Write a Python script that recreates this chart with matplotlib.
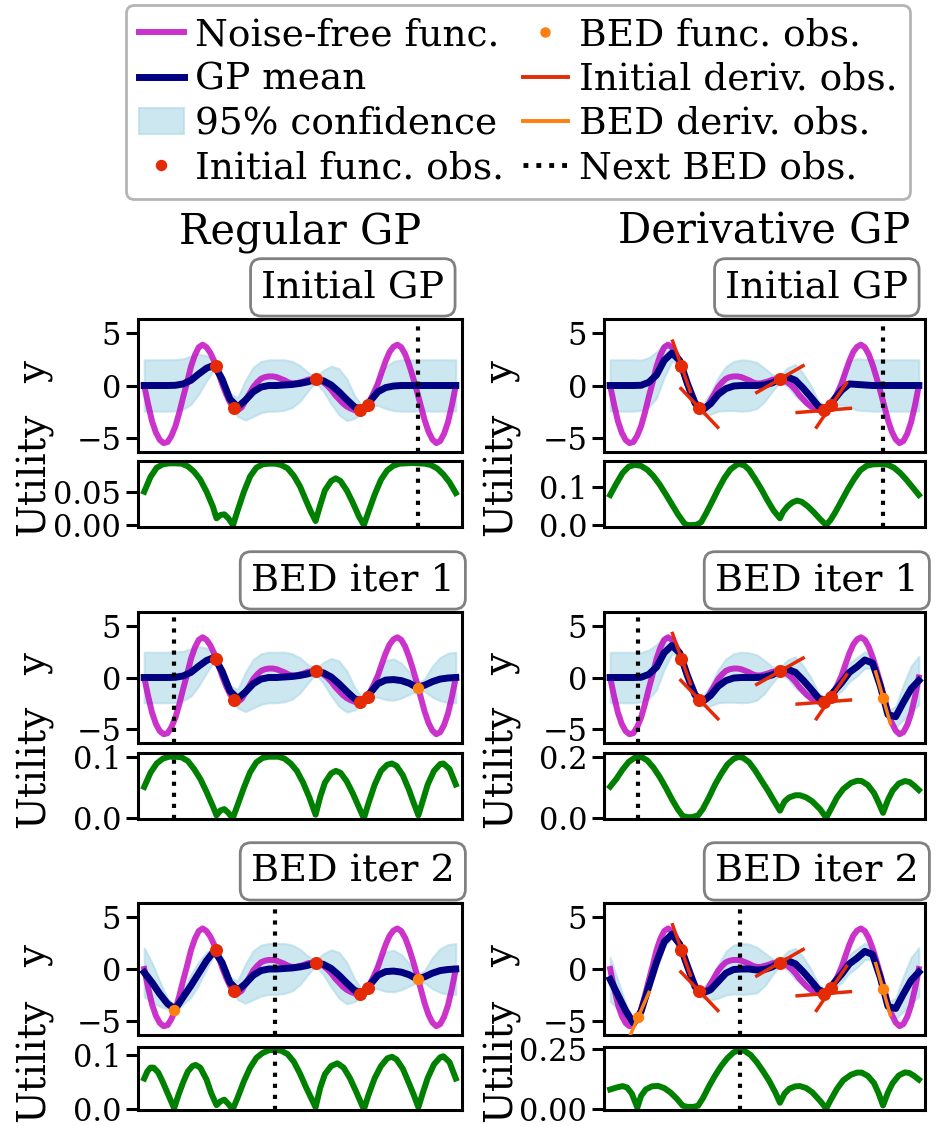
import numpy as np
import matplotlib
matplotlib.use("Agg")
import matplotlib.pyplot as plt
from matplotlib.lines import Line2D
from matplotlib.patches import Patch

plt.rcParams['font.family'] = ['DejaVu Serif']
plt.rcParams['axes.linewidth'] = 2.2
plt.rcParams['ytick.major.width'] = 2.2
plt.rcParams['ytick.major.size'] = 8.5
plt.rcParams['ytick.labelsize'] = 22

# ---------------------------------------------------------------- data
x_fine = np.linspace(0.0, 10.0, 81)
x_grid = np.linspace(0.0, 10.0, 41)

noise_free = [0.0, -1.8, -3.4, -4.5, -5.2, -5.5, -5.4, -4.8, -3.9, -2.6, -1.1, 0.3,
              1.8, 2.9, 3.65, 3.9, 3.65, 3.1, 2.3, 1.3, 0.15, -0.8, -1.6, -2.15,
              -2.35, -2.1, -1.45, -0.8, -0.15, 0.3, 0.65, 0.8, 0.87, 0.87, 0.8,
              0.65, 0.5, 0.3, 0.2, 0.2, 0.3, 0.4, 0.55, 0.6, 0.6, 0.55, 0.3, 0.0,
              -0.4, -0.9, -1.3, -1.7, -2.0, -2.2, -2.35, -2.4, -2.3, -1.95, -1.4,
              -0.65, 0.2, 1.3, 2.35, 3.2, 3.7, 3.9, 3.65, 3.0, 2.0, 0.8, -0.5, -1.9,
              -3.3, -4.4, -5.15, -5.5, -5.3, -4.6, -3.5, -1.9, 0.0]

# initial observations (function values and derivatives)
init_x = [2.31, 2.89, 5.5, 6.92, 7.17]
init_y = [1.83, -2.14, 0.61, -2.38, -1.87]
init_slope = [-8.4, -3.1, 1.7, 0.23, 4.35]

# BED observations
bed_reg_x = [8.8, 0.95]
bed_reg_y = [-1.0, -3.9]
bed_der_x = [8.84, 0.91]
bed_der_y = [-1.95, -4.6]
bed_der_slope = [-10.5, 6.8]
next_reg_x = [8.8, 0.95, 4.21]
next_der_x = [8.84, 0.91, 4.22]

# GP posterior means and 95% half-widths, regular GP
reg_mean_0 = [0, 0, 0, 0, 0.02, 0.15, 0.5, 1.1, 1.65, 1.95, 0.6, -1.3, -2.05, -1.4,
              -0.6, -0.15, 0, 0, 0.05, 0.1, 0.2, 0.35, 0.58, 0.45, 0.05, -0.6, -1.35,
              -2.05, -2.3, -1.5, -0.6, -0.2, -0.05, 0, 0, 0, 0, 0, 0, 0, 0]
reg_hw_0 = [2.45, 2.45, 2.45, 2.45, 2.45, 2.4, 2.3, 1.9, 1.2, 0.35, 0.5, 0.5, 0.9,
            1.9, 2.35, 2.45, 2.45, 2.45, 2.4, 2.2, 1.7, 0.9, 0.25, 1.0, 1.8, 2.2,
            2.0, 1.1, 0.3, 0.45, 1.3, 2.0, 2.35, 2.45, 2.45, 2.45, 2.45, 2.45, 2.45,
            2.45, 2.45]
reg_mean_1 = [0, 0, 0, 0, 0.02, 0.15, 0.5, 1.1, 1.65, 1.95, 0.6, -1.3, -2.05, -1.4,
              -0.6, -0.15, 0, 0, 0.05, 0.1, 0.2, 0.35, 0.58, 0.45, 0.05, -0.6, -1.35,
              -2.05, -2.3, -1.5, -0.6, -0.25, -0.2, -0.3, -0.55, -0.95, -0.75, -0.4,
              -0.15, -0.05, 0]
reg_hw_1 = [2.45, 2.45, 2.45, 2.45, 2.45, 2.4, 2.3, 1.9, 1.2, 0.35, 0.5, 0.5, 0.9,
            1.9, 2.35, 2.45, 2.45, 2.45, 2.4, 2.2, 1.7, 0.9, 0.25, 1.0, 1.8, 2.2,
            2.0, 1.1, 0.3, 0.45, 1.3, 1.9, 2.0, 1.7, 1.1, 0.35, 0.6, 1.5, 2.1, 2.4,
            2.45]
reg_mean_2 = [-0.33, -1.3, -2.4, -3.35, -3.85, -2.7, -1.6, -0.4, 0.8, 1.75, 0.6,
              -1.3, -2.05, -1.4, -0.6, -0.15, 0, 0, 0.05, 0.1, 0.2, 0.35, 0.58, 0.45,
              0.05, -0.6, -1.35, -2.05, -2.3, -1.5, -0.6, -0.25, -0.2, -0.3, -0.55,
              -0.95, -0.75, -0.4, -0.15, -0.05, 0]
reg_hw_2 = [2.35, 1.9, 1.2, 0.5, 0.3, 0.7, 1.1, 1.1, 0.8, 0.35, 0.5, 0.5, 0.9,
            1.9, 2.35, 2.45, 2.45, 2.45, 2.4, 2.2, 1.7, 0.9, 0.25, 1.0, 1.8, 2.2,
            2.0, 1.1, 0.3, 0.45, 1.3, 1.9, 2.0, 1.7, 1.1, 0.35, 0.6, 1.5, 2.1, 2.4,
            2.45]

# GP posterior means and 95% half-widths, derivative GP
der_mean_0 = [0, 0, 0, 0, 0.02, 0.3, 1.0, 2.4, 3.1, 2.4, 0.2, -1.7, -2.3, -1.75,
              -0.85, -0.3, -0.05, 0, 0, 0, 0.05, 0.25, 0.63, 0.8, 0.5, -0.25, -1.1,
              -2.0, -2.3, -1.35, -0.45, 0.15, 0.1, 0.05, 0, 0, 0, 0, 0, 0, 0]
der_hw_0 = [2.45, 2.45, 2.45, 2.45, 2.4, 2.35, 2.2, 1.6, 0.8, 0.3, 0.3, 0.3, 0.5,
            1.0, 1.6, 2.1, 2.35, 2.45, 2.4, 2.2, 1.6, 0.8, 0.3, 0.9, 1.5, 1.4, 1.1,
            0.5, 0.3, 0.5, 1.4, 2.2, 2.45, 2.45, 2.45, 2.45, 2.45, 2.45, 2.45, 2.45,
            2.45]
der_mean_1 = [0, 0, 0, 0, 0.02, 0.3, 1.0, 2.4, 3.1, 2.4, 0.2, -1.7, -2.3, -1.75,
              -0.85, -0.3, -0.05, 0, 0, 0, 0.05, 0.25, 0.63, 0.8, 0.5, -0.25, -1.1,
              -2.0, -2.3, -1.35, -0.5, 0.5, 1.05, 1.7, 1.4, -0.8, -3.6, -3.8, -2.4,
              -1.1, -0.3]
der_hw_1 = [2.45, 2.45, 2.45, 2.45, 2.4, 2.35, 2.2, 1.6, 0.8, 0.3, 0.3, 0.3, 0.5,
            1.0, 1.6, 2.1, 2.35, 2.45, 2.4, 2.2, 1.6, 0.8, 0.3, 0.9, 1.5, 1.4, 1.1,
            0.5, 0.3, 0.5, 0.8, 0.9, 0.9, 0.8, 0.5, 0.25, 0.4, 1.0, 1.7, 2.2, 2.35]
der_mean_2 = [-1.0, -2.5, -4.0, -5.2, -4.1, -1.7, 0.65, 2.6, 3.35, 2.4, 0.3, -1.7,
              -2.3, -2.0, -1.2, -0.4, -0.05, 0, 0, -0.1, -0.05, 0.2, 0.63, 0.8, 0.5,
              -0.25, -1.1, -2.0, -2.3, -1.35, -0.5, 0.5, 1.05, 1.7, 1.4, -0.8, -3.6,
              -3.8, -2.4, -1.1, -0.3]
der_hw_2 = [2.1, 1.4, 0.7, 0.3, 0.3, 0.5, 0.6, 0.5, 0.35, 0.3, 0.3, 0.3, 0.5, 1.0,
            1.6, 2.1, 2.35, 2.45, 2.4, 2.2, 1.6, 0.8, 0.3, 0.9, 1.5, 1.4, 1.1, 0.5,
            0.3, 0.5, 0.8, 0.9, 0.9, 0.8, 0.5, 0.25, 0.4, 1.0, 1.7, 2.2, 2.35]

# utility curves
reg_util_x_0 = [0, 0.2, 0.4, 0.6, 0.8, 1.0, 1.2, 1.4, 1.6, 1.8, 2.0, 2.2, 2.32, 2.45,
                2.57, 2.7, 2.85, 3.0, 3.2, 3.4, 3.6, 3.8, 4.0, 4.2, 4.4, 4.6, 4.8,
                5.0, 5.2, 5.35, 5.5, 5.65, 5.8, 6.0, 6.15, 6.3, 6.5, 6.7, 6.9, 7.05,
                7.2, 7.4, 7.6, 7.8, 8.0, 8.2, 8.6, 9.0, 9.2, 9.4, 9.6, 9.8, 10]
reg_util_y_0 = [0.05, 0.072, 0.086, 0.091, 0.0925, 0.0925, 0.092, 0.088, 0.08,
                0.068, 0.05, 0.028, 0.01, 0.015, 0.016, 0.01, 0.0, 0.022, 0.05,
                0.073, 0.086, 0.091, 0.092, 0.092, 0.09, 0.085, 0.074, 0.058, 0.036,
                0.02, 0.006, 0.03, 0.052, 0.066, 0.07, 0.066, 0.052, 0.033, 0.012,
                0.0, 0.02, 0.046, 0.068, 0.082, 0.089, 0.092, 0.093, 0.092, 0.09,
                0.085, 0.076, 0.064, 0.048]
reg_util_x_1 = [0, 0.2, 0.4, 0.6, 0.8, 1.0, 1.2, 1.4, 1.6, 1.8, 2.0, 2.2, 2.32, 2.45,
                2.57, 2.7, 2.84, 3.0, 3.2, 3.4, 3.6, 3.8, 4.0, 4.3, 4.5, 4.7, 4.9,
                5.1, 5.3, 5.5, 5.65, 5.8, 6.0, 6.15, 6.3, 6.5, 6.7, 6.9, 7.05, 7.2,
                7.4, 7.6, 7.8, 7.95, 8.1, 8.3, 8.5, 8.65, 8.8, 8.95, 9.1, 9.3, 9.5,
                9.6, 9.8, 10]
reg_util_y_1 = [0.051, 0.074, 0.089, 0.097, 0.1, 0.1, 0.099, 0.093, 0.08, 0.064,
                0.043, 0.02, 0.005, 0.013, 0.015, 0.009, 0.0, 0.022, 0.05, 0.075,
                0.091, 0.098, 0.1, 0.1, 0.097, 0.089, 0.077, 0.058, 0.034, 0.006,
                0.035, 0.058, 0.073, 0.077, 0.074, 0.06, 0.04, 0.017, 0.0, 0.025,
                0.055, 0.077, 0.087, 0.089, 0.085, 0.07, 0.046, 0.025, 0.005, 0.03,
                0.055, 0.077, 0.088, 0.089, 0.08, 0.055]
reg_util_x_2 = [0, 0.1, 0.2, 0.3, 0.45, 0.6, 0.75, 0.96, 1.1, 1.25, 1.4, 1.55, 1.65,
                1.8, 2.0, 2.15, 2.32, 2.45, 2.57, 2.7, 2.84, 3.0, 3.2, 3.4, 3.6, 3.8,
                4.0, 4.2, 4.4, 4.6, 4.8, 5.0, 5.2, 5.35, 5.5, 5.65, 5.8, 6.0, 6.2,
                6.4, 6.6, 6.8, 7.05, 7.2, 7.4, 7.6, 7.8, 7.95, 8.1, 8.3, 8.5, 8.65,
                8.8, 8.95, 9.1, 9.3, 9.5, 9.6, 9.8, 10]
reg_util_y_2 = [0.057, 0.07, 0.077, 0.077, 0.068, 0.05, 0.03, 0.002, 0.027, 0.05,
                0.07, 0.08, 0.082, 0.077, 0.055, 0.03, 0.008, 0.015, 0.018, 0.01, 0.0,
                0.022, 0.052, 0.077, 0.095, 0.104, 0.109, 0.11, 0.108, 0.102, 0.088,
                0.066, 0.04, 0.022, 0.004, 0.04, 0.065, 0.08, 0.085, 0.077, 0.058,
                0.033, 0.0, 0.027, 0.058, 0.08, 0.094, 0.097, 0.092, 0.075, 0.048,
                0.027, 0.004, 0.032, 0.058, 0.083, 0.096, 0.098, 0.087, 0.057]

der_util_x_0 = [0, 0.2, 0.4, 0.6, 0.8, 1.0, 1.2, 1.4, 1.6, 1.8, 2.0, 2.2, 2.4, 2.5,
                2.6, 2.8, 2.95, 3.1, 3.3, 3.5, 3.7, 3.9, 4.1, 4.2, 4.35, 4.5, 4.7,
                4.9, 5.1, 5.3, 5.5, 5.6, 5.75, 5.9, 6.05, 6.2, 6.4, 6.6, 6.8, 7.0,
                7.15, 7.3, 7.5, 7.7, 7.9, 8.1, 8.3, 8.5, 8.8, 9.0, 9.2, 9.4, 9.6, 9.8,
                10]
der_util_y_0 = [0.08, 0.11, 0.138, 0.155, 0.16, 0.157, 0.147, 0.13, 0.108, 0.082,
                0.055, 0.028, 0.005, 0.0, 0.0, 0.001, 0.008, 0.03, 0.062, 0.095,
                0.125, 0.148, 0.16, 0.162, 0.158, 0.147, 0.122, 0.095, 0.065, 0.038,
                0.018, 0.035, 0.05, 0.06, 0.065, 0.062, 0.05, 0.034, 0.016, 0.0,
                0.015, 0.035, 0.065, 0.095, 0.122, 0.145, 0.157, 0.161, 0.162, 0.16,
                0.152, 0.138, 0.12, 0.1, 0.08]
der_util_x_1 = [0, 0.2, 0.4, 0.6, 0.8, 0.92, 1.05, 1.2, 1.4, 1.6, 1.8, 2.0, 2.2,
                2.35, 2.5, 2.65, 2.85, 3.0, 3.2, 3.4, 3.6, 3.8, 4.0, 4.15, 4.3, 4.5,
                4.7, 4.9, 5.1, 5.3, 5.5, 5.65, 5.8, 6.0, 6.15, 6.35, 6.55, 6.8, 7.0,
                7.15, 7.35, 7.55, 7.8, 8.0, 8.15, 8.35, 8.55, 8.7, 8.84, 9.0, 9.15,
                9.35, 9.55, 9.7, 9.85, 10]
der_util_y_1 = [0.103, 0.128, 0.158, 0.183, 0.197, 0.2, 0.197, 0.188, 0.165, 0.135,
                0.1, 0.062, 0.028, 0.008, 0.004, 0.004, 0.01, 0.03, 0.068, 0.11,
                0.145, 0.175, 0.193, 0.199, 0.197, 0.182, 0.155, 0.123, 0.092, 0.058,
                0.025, 0.055, 0.068, 0.075, 0.075, 0.068, 0.055, 0.03, 0.002, 0.03,
                0.068, 0.095, 0.115, 0.122, 0.121, 0.108, 0.082, 0.05, 0.018, 0.06,
                0.09, 0.113, 0.121, 0.118, 0.106, 0.092]
der_util_x_2 = [0, 0.2, 0.4, 0.55, 0.7, 0.88, 1.0, 1.15, 1.35, 1.55, 1.75, 1.95,
                2.15, 2.35, 2.5, 2.7, 2.85, 3.0, 3.2, 3.4, 3.6, 3.8, 4.0, 4.2, 4.35,
                4.55, 4.75, 4.95, 5.15, 5.35, 5.5, 5.65, 5.8, 6.0, 6.15, 6.35, 6.55,
                6.8, 7.0, 7.15, 7.35, 7.55, 7.8, 8.0, 8.15, 8.35, 8.55, 8.7, 8.84,
                9.0, 9.15, 9.35, 9.55, 9.7, 9.85, 10]
der_util_y_2 = [0.082, 0.09, 0.096, 0.09, 0.065, 0.007, 0.055, 0.082, 0.095, 0.097,
                0.088, 0.07, 0.045, 0.015, 0.01, 0.01, 0.015, 0.045, 0.095, 0.14,
                0.18, 0.212, 0.236, 0.246, 0.242, 0.225, 0.195, 0.158, 0.118, 0.07,
                0.027, 0.065, 0.085, 0.095, 0.096, 0.088, 0.07, 0.035, 0.003, 0.04,
                0.085, 0.12, 0.143, 0.152, 0.152, 0.138, 0.108, 0.065, 0.016, 0.07,
                0.108, 0.14, 0.153, 0.15, 0.138, 0.123]

row_titles = ["Initial GP", "BED iter 1", "BED iter 2"]
col_titles = ["Regular GP", "Derivative GP"]

# ---------------------------------------------------------------- styling
C_FUNC = 'm'
C_MEAN = 'navy'
C_BAND = 'lightblue'
C_INIT = '#e52a06'
C_BED = '#ff7f0e'
C_UTIL = 'green'
BAND_ALPHA = 0.6

W, H = 936, 1126
fig = plt.figure(figsize=(W / 100, H / 100), dpi=100)

# pixel boxes: rows -> (main top, main bottom, util top, util bottom)
row_px = [(319, 452, 461, 527), (612, 743, 753, 819), (903, 1035, 1047, 1110)]
col_px = [(138, 462), (604, 925)]
util_lims = [[(-0.003, 0.096), (-0.005, 0.17)],
             [(-0.001, 0.106), (-0.002, 0.212)],
             [(-0.001, 0.115), (-0.003, 0.258)]]
util_ticks = [[[0.0, 0.05], [0.0, 0.1]],
              [[0.0, 0.1], [0.0, 0.2]],
              [[0.0, 0.1], [0.0, 0.25]]]


def px_axes(left, right, top, bottom):
    return fig.add_axes([left / W, 1 - bottom / H, (right - left) / W,
                         (bottom - top) / H])


def deriv_segment(ax, x0, y0, slope, half_px=26.7):
    """End points of a tangent segment of fixed on-screen length."""
    T = ax.transData
    p0 = T.transform((x0, y0))
    p1 = T.transform((x0 + 1.0, y0 + slope))
    d = p1 - p0
    d = d / np.hypot(d[0], d[1])
    a = T.inverted().transform(p0 - half_px * d)
    b = T.inverted().transform(p0 + half_px * d)
    return [a[0], b[0]], [a[1], b[1]]


panels = {
    (0, 0): (reg_mean_0, reg_hw_0, reg_util_x_0, reg_util_y_0),
    (1, 0): (reg_mean_1, reg_hw_1, reg_util_x_1, reg_util_y_1),
    (2, 0): (reg_mean_2, reg_hw_2, reg_util_x_2, reg_util_y_2),
    (0, 1): (der_mean_0, der_hw_0, der_util_x_0, der_util_y_0),
    (1, 1): (der_mean_1, der_hw_1, der_util_x_1, der_util_y_1),
    (2, 1): (der_mean_2, der_hw_2, der_util_x_2, der_util_y_2),
}

for (r, c), (mean, hw, ux, uy) in panels.items():
    mt, mb, ut, ub = row_px[r]
    cl, cr = col_px[c]
    ax = px_axes(cl, cr, mt, mb)
    axu = px_axes(cl, cr, ut, ub)
    ax.set_xlim(-0.2, 10.2)
    ax.set_ylim(-6.35, 6.35)
    axu.set_xlim(-0.2, 10.2)
    axu.set_ylim(*util_lims[r][c])

    mean = np.asarray(mean)
    hw = np.asarray(hw)
    ax.fill_between(x_grid, mean - hw, mean + hw, color=C_BAND, alpha=BAND_ALPHA,
                    lw=1.5, zorder=1)
    ax.plot(x_fine, noise_free, color=C_FUNC, alpha=0.8, lw=4.3, zorder=2,
            solid_joinstyle='round')
    ax.plot(x_grid, mean, color=C_MEAN, lw=5.0, zorder=3,
            solid_joinstyle='round')

    if c == 1:
        for x0, y0, s in zip(init_x, init_y, init_slope):
            sx, sy = deriv_segment(ax, x0, y0, s)
            ax.plot(sx, sy, color=C_INIT, lw=2.5, zorder=4)
        for x0, y0, s in zip(bed_der_x[:r], bed_der_y[:r], bed_der_slope[:r]):
            sx, sy = deriv_segment(ax, x0, y0, s)
            ax.plot(sx, sy, color=C_BED, lw=2.5, zorder=4)
        bx, by, nx = bed_der_x[:r], bed_der_y[:r], next_der_x[r]
    else:
        bx, by, nx = bed_reg_x[:r], bed_reg_y[:r], next_reg_x[r]

    ax.plot(init_x, init_y, 'o', color=C_INIT, ms=8.4, zorder=5)
    if r > 0:
        ax.plot(bx, by, 'o', color=C_BED, ms=7.2, zorder=5)

    axu.plot(ux, uy, color=C_UTIL, lw=4.3, solid_joinstyle='round')
    for a in (ax, axu):
        a.axvline(nx, color='k', ls=':', lw=3.0, zorder=6)
        a.set_xticks([])

    ax.set_yticks([-5, 0, 5])
    axu.set_yticks(util_ticks[r][c])
    ax.set_ylabel("y", fontsize=28)
    axu.set_ylabel("Utility", fontsize=28)
    ax.yaxis.set_label_coords(-0.262, 0.6)
    axu.yaxis.set_label_coords(-0.262, 0.79)

    ax.annotate(row_titles[r], xy=(0.663, 1.0), xycoords='axes fraction',
                xytext=(0, 9.8), textcoords='offset points', ha='center',
                va='bottom', fontsize=27.5,
                bbox=dict(boxstyle='round,pad=0.28', fc='white', ec='grey',
                          lw=2))

for c, title in enumerate(col_titles):
    cl, cr = col_px[c]
    fig.text((cl + cr) / 2 / W, 1 - 232 / H, title, ha='center', va='center',
             fontsize=30)

handles = [
    Line2D([], [], color=C_FUNC, alpha=0.8, lw=4.3),
    Line2D([], [], color=C_MEAN, lw=5.0),
    Patch(facecolor=C_BAND, edgecolor=C_BAND, alpha=BAND_ALPHA, lw=1.5),
    Line2D([], [], color=C_INIT, marker='o', ls='none', ms=7.2),
    Line2D([], [], color=C_BED, marker='o', ls='none', ms=6.5),
    Line2D([], [], color=C_INIT, lw=2.8),
    Line2D([], [], color=C_BED, lw=2.8),
    Line2D([], [], color='k', ls=':', lw=3.5),
]
labels = ["Noise-free func.", "GP mean", "95% confidence", "Initial func. obs.",
          "BED func. obs.", "Initial deriv. obs.", "BED deriv. obs.",
          "Next BED obs."]
leg = fig.legend(handles, labels, ncol=2, loc='upper center',
                 bbox_to_anchor=(518 / W, 1 - 5 / H), fontsize=27,
                 labelspacing=0.22, handlelength=1.2, handletextpad=0.3,
                 columnspacing=0.5, borderpad=0.33, borderaxespad=0.0,
                 fancybox=True, edgecolor='#b5b5b5', framealpha=1.0)
leg.get_frame().set_linewidth(2)

fig.savefig('out.png', dpi=100)
